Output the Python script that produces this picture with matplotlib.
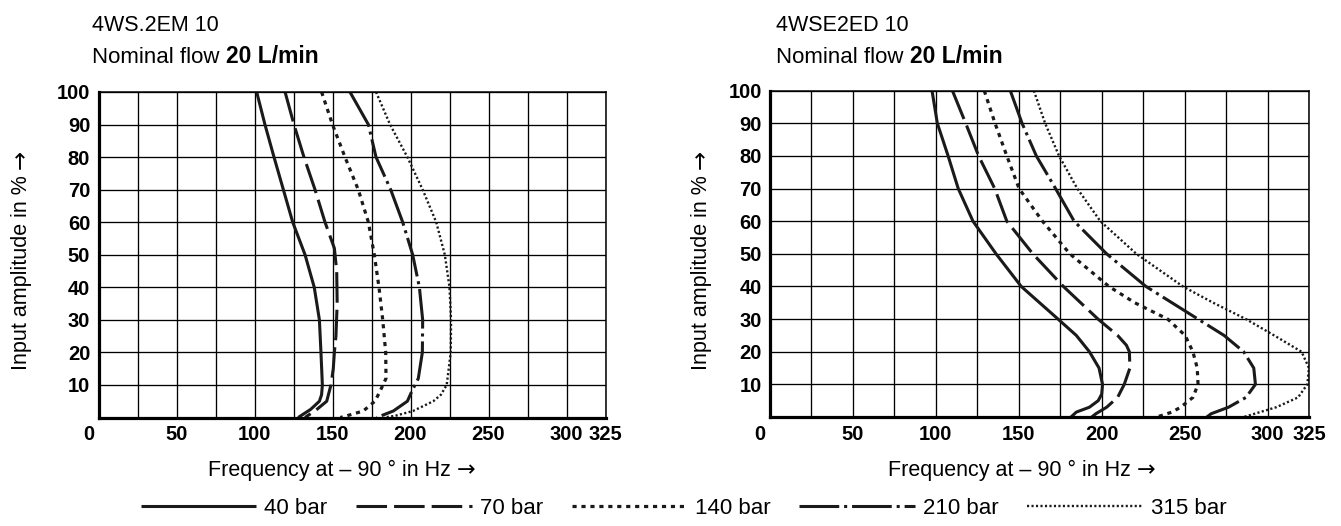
import numpy as np
import matplotlib
matplotlib.use('Agg')
import matplotlib.pyplot as plt
from matplotlib.lines import Line2D

plt.rcParams['font.family'] = ['Liberation Sans', 'DejaVu Sans']

# ---- data (frequency in Hz, amplitude in %) ----
left_40_hz = [101.4, 106.7, 112.5, 118.5, 124.5, 132.4, 138.3, 141.6, 142.6, 143.5, 143.0, 141.6, 136.0, 128.0]
left_40_pct = [100, 90, 80, 70, 60, 50, 40, 30, 20, 10, 7, 5, 2.5, 0]
left_70_hz = [119.6, 125.3, 131.7, 138.8, 145.2, 151.2, 152.7, 153.0, 152.2, 151.2, 150.5, 149.0, 146.3, 140.0, 132.4]
left_70_pct = [100, 90, 80, 70, 60, 52, 45, 35, 25, 20, 15, 10, 5, 2.5, 0]
left_140_hz = [143.0, 150.0, 158.0, 166.5, 173.0, 176.8, 179.8, 182.2, 184.1, 184.3, 180.4, 177.2, 169.7, 159.0, 155.0]
left_140_pct = [100, 90, 80, 70, 60, 50, 40, 30, 20, 12, 8, 5, 2, 0.5, 0]
left_210_hz = [161.2, 173.0, 177.9, 187.3, 195.0, 201.4, 205.7, 207.8, 207.6, 205.0, 200.8, 198.0, 189.0, 178.3]
left_210_pct = [100, 90, 80, 70, 60, 50, 40, 30, 20, 12, 8, 5, 2, 0]
left_315_hz = [177.9, 186.9, 198.0, 207.8, 216.5, 222.0, 225.0, 226.0, 225.8, 223.2, 219.5, 214.6, 201.6, 190.0, 183.0]
left_315_pct = [100, 90, 80, 70, 60, 50, 40, 30, 20, 10, 7, 5, 2, 0.5, 0]

right_40_hz = [97.7, 100.9, 107.4, 113.5, 122.4, 136.3, 151.5, 173.7, 184.7, 192.6, 198.4, 200.5, 200.0, 197.9, 192.6, 184.7, 181.5]
right_40_pct = [100, 90, 80, 70, 60, 50, 40, 30, 25, 20, 15, 10, 7, 5, 3, 1.5, 0]
right_70_hz = [110.0, 118.0, 125.8, 135.5, 142.8, 158.5, 176.9, 197.8, 209.6, 214.9, 216.7, 217.0, 213.6, 209.6, 203.0, 196.5, 194.0]
right_70_pct = [100, 90, 80, 70, 60, 50, 40, 30, 25, 22, 20, 15, 10, 6, 3, 1, 0]
right_140_hz = [129.2, 135.7, 142.8, 150.2, 164.3, 180.8, 204.4, 220.0, 239.8, 250.3, 255.0, 257.6, 258.1, 255.0, 247.6, 242.4, 233.2]
right_140_pct = [100, 90, 80, 70, 60, 50, 40, 35, 30, 25, 20, 15, 10, 6, 3, 1.5, 0]
right_210_hz = [144.9, 152.0, 160.6, 172.2, 183.4, 203.0, 226.7, 242.4, 258.1, 273.8, 285.6, 291.7, 292.7, 287.0, 276.5, 266.0, 263.4]
right_210_pct = [100, 90, 80, 70, 60, 50, 40, 35, 30, 25, 20, 15, 10, 6, 3, 1, 0]
right_315_hz = [159.1, 165.9, 174.3, 185.3, 199.2, 220.9, 249.0, 267.3, 287.0, 304.0, 320.5, 325.0, 324.0, 318.4, 305.3, 292.2, 285.6]
right_315_pct = [100, 90, 80, 70, 60, 50, 40, 35, 30, 25, 20, 15, 10, 6, 3, 1, 0]

pressures = ['40 bar', '70 bar', '140 bar', '210 bar', '315 bar']
x_ticks = [0, 50, 100, 150, 200, 250, 300, 325]
y_ticks = [10, 20, 30, 40, 50, 60, 70, 80, 90, 100]
titles = ['4WS.2EM 10', '4WSE2ED 10']

left_curves = [(left_40_hz, left_40_pct), (left_70_hz, left_70_pct), (left_140_hz, left_140_pct),
               (left_210_hz, left_210_pct), (left_315_hz, left_315_pct)]
right_curves = [(right_40_hz, right_40_pct), (right_70_hz, right_70_pct), (right_140_hz, right_140_pct),
                (right_210_hz, right_210_pct), (right_315_hz, right_315_pct)]

# line styles per pressure
styles = [
    dict(linestyle='-', lw=2.2),
    dict(linestyle=(0, (10, 2.3)), lw=2.2),
    dict(linestyle=(0, (1.3, 1.5)), lw=2.3),
    dict(linestyle=(0, (13, 1.6, 1, 1.6)), lw=2.2),
    dict(linestyle=(0, (0.9, 1.0)), lw=1.7),
]
ink = '#1a1a1a'

W, H = 1341, 526
fig = plt.figure(figsize=(W / 100, H / 100), dpi=100)
ax_l = fig.add_axes([98.5 / W, 108.5 / H, 507 / W, 325.5 / H])
ax_r = fig.add_axes([770 / W, 109 / H, 539 / W, 326.3 / H])


def setup(ax):
    ax.set_xlim(0, 325)
    ax.set_ylim(0, 100)
    ax.set_xticks(x_ticks[1:])
    ax.set_xticklabels([str(t) for t in x_ticks[1:]], fontweight='bold', fontsize=14.5)
    ax.set_xticks(np.arange(25, 325, 25), minor=True)
    ax.set_yticks(y_ticks)
    ax.set_yticklabels([str(t) for t in y_ticks], fontweight='bold', fontsize=14.5)
    ax.tick_params(which='both', length=0)
    ax.tick_params(axis='x', pad=5.4)
    ax.tick_params(axis='y', pad=6)
    ax.grid(which='both', axis='x', color='black', lw=0.95)
    ax.grid(which='major', axis='y', color='black', lw=0.95)
    ax.set_axisbelow(True)
    for s in ['left', 'bottom']:
        ax.spines[s].set_linewidth(2.3)
    for s in ['top', 'right']:
        ax.spines[s].set_linewidth(1.1)
    ax.annotate('0', xy=(0, 0), xycoords='axes fraction', xytext=(-10, -7.5),
                textcoords='offset pixels', ha='center', va='top',
                fontweight='bold', fontsize=14.5)


for ax, curves in [(ax_l, left_curves), (ax_r, right_curves)]:
    setup(ax)
    for (hz, pct), st in zip(curves, styles):
        ax.plot(hz, pct, color=ink, solid_capstyle='butt', dash_capstyle='butt', **st)

fig.canvas.draw()
renderer = fig.canvas.get_renderer()

# titles
for x0, name in [(92, titles[0]), (776, titles[1])]:
    fig.text(x0 / W, 1 - 31 / H, name, fontsize=15.5, va='baseline', ha='left')
    t = fig.text(x0 / W, 1 - 63 / H, 'Nominal flow ', fontsize=16, va='baseline', ha='left')
    bb = t.get_window_extent(renderer)
    fig.text(bb.x1 / W, 1 - 63 / H, '20 L/min', fontsize=16.5, va='baseline', ha='left',
             fontweight='bold')

# x axis labels, arrow drawn in DejaVu for a full-size glyph
for x0 in [208, 888]:
    t = fig.text(x0 / W, 1 - 476 / H, 'Frequency at – 90 ° in Hz ', fontsize=15.5,
                 ha='left', va='baseline')
    bb = t.get_window_extent(renderer)
    fig.text(bb.x1 / W, 1 - 476 / H, '→', family='DejaVu Sans', fontsize=16,
             ha='left', va='baseline')

# y axis labels
for x0 in [26.5, 707]:
    t = fig.text(x0 / W, 1 - 370 / H, 'Input amplitude in % ', fontsize=15.5, rotation=90,
                 rotation_mode='anchor', ha='left', va='baseline')
    bb = t.get_window_extent(renderer)
    fig.text(x0 / W, bb.y1 / H, '→', family='DejaVu Sans', fontsize=16.5, rotation=90,
             rotation_mode='anchor', ha='left', va='baseline')

# legend
handles = [Line2D([], [], color=ink, solid_capstyle='butt', dash_capstyle='butt', **st)
           for st in styles]
fig.legend(handles, pressures, loc='center', bbox_to_anchor=(0.5097, 1 - 508 / H), ncol=5,
           frameon=False, handlelength=5.2, handletextpad=0.35, columnspacing=1.3, fontsize=16)

fig.savefig('out.png', dpi=100)
